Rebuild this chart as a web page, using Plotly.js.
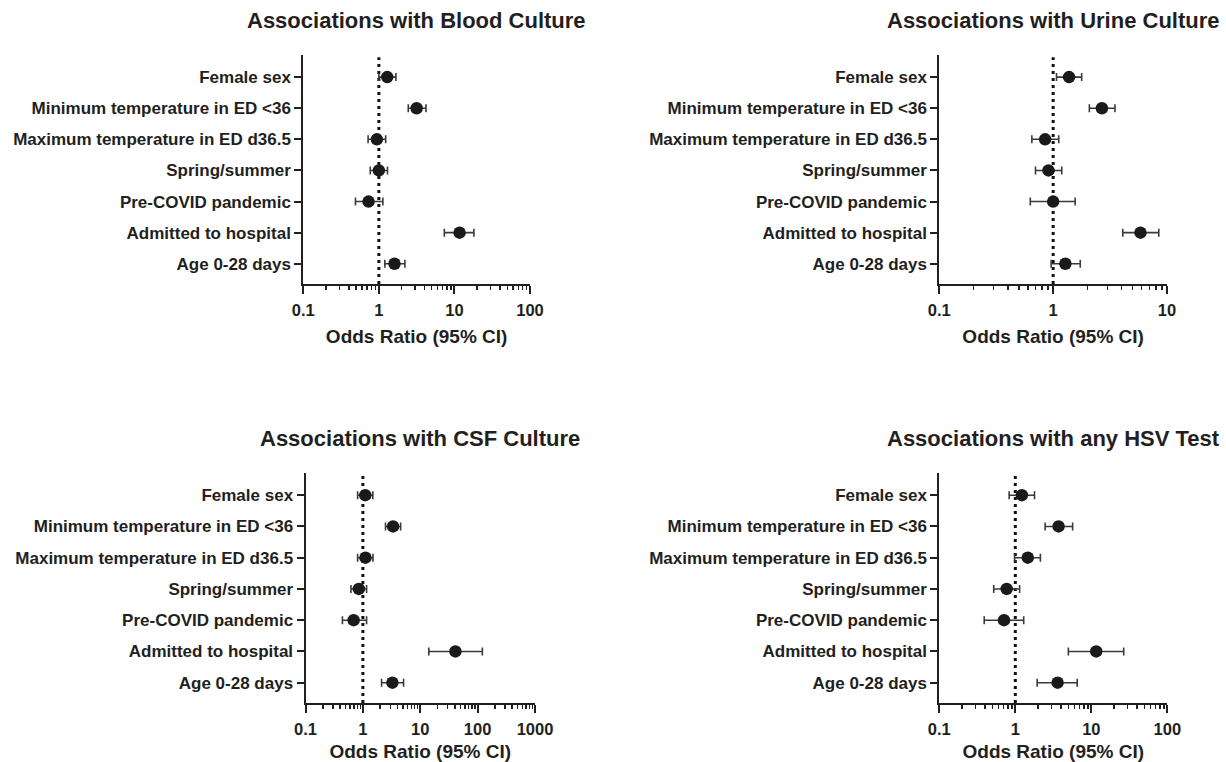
<!DOCTYPE html>
<html>
<head>
<meta charset="utf-8">
<script src="https://cdn.plot.ly/plotly-3.0.1.min.js"></script>
<style>html,body{margin:0;padding:0;background:#fff;}#chart{width:1226px;height:762px;}</style>
</head>
<body>
<div id="chart"></div>
<script>
// ---- data ----
const categories = ["Female sex", "Minimum temperature in ED <36", "Maximum temperature in ED d36.5",
  "Spring/summer", "Pre-COVID pandemic", "Admitted to hospital", "Age 0-28 days"];

const bloodOR = [1.29, 3.16, 0.94, 1.00, 0.73, 11.7, 1.61];
const bloodLo = [1.00, 2.45, 0.72, 0.77, 0.49, 7.35, 1.20];
const bloodHi = [1.68, 4.20, 1.23, 1.30, 1.13, 18.1, 2.21];

const urineOR = [1.38, 2.68, 0.85, 0.91, 1.00, 5.85, 1.28];
const urineLo = [1.07, 2.08, 0.65, 0.70, 0.63, 4.09, 0.96];
const urineHi = [1.78, 3.49, 1.12, 1.19, 1.56, 8.47, 1.73];

const csfOR = [1.10, 3.36, 1.11, 0.85, 0.69, 41.0, 3.27];
const csfLo = [0.81, 2.48, 0.81, 0.62, 0.44, 14.1, 2.12];
const csfHi = [1.49, 4.55, 1.50, 1.16, 1.16, 121, 5.12];

const hsvOR = [1.22, 3.71, 1.46, 0.77, 0.71, 11.6, 3.60];
const hsvLo = [0.83, 2.47, 0.98, 0.52, 0.39, 4.99, 1.94];
const hsvHi = [1.79, 5.68, 2.14, 1.14, 1.29, 26.7, 6.53];

const titles = ["Associations with Blood Culture", "Associations with Urine Culture",
  "Associations with CSF Culture", "Associations with any HSV Test"];
const xTitle = "Odds Ratio (95% CI)";
const xTickVals = [0.1, 1, 10, 100, 1000];
const xTickText = ["0.1", "1", "10", "100", "1000"];
const xMaxDecade = [2, 1, 3, 2];  // log10 of upper axis limit per panel

// ---- layout helpers ----
const W = 1226, H = 762;
const FONT = "Liberation Sans, Arial, sans-serif";
const INK = "#231f20";
const panels = [
  {or: bloodOR, lo: bloodLo, hi: bloodHi, px: [303.3, 530], py: [55, 284]},
  {or: urineOR, lo: urineLo, hi: urineHi, px: [939.3, 1167], py: [55, 284]},
  {or: csfOR,   lo: csfLo,   hi: csfHi,   px: [305.5, 535], py: [473, 703]},
  {or: hsvOR,   lo: hsvLo,   hi: hsvHi,   px: [939.3, 1167.3], py: [473, 703]}
];

function minorVals(maxDec) {
  const v = [];
  for (let d = -1; d < maxDec; d++) {
    for (let k = 2; k <= 9; k++) v.push(k * Math.pow(10, d));
  }
  return v;
}

const data = [];
const layout = {
  width: W, height: H,
  margin: {l: 0, r: 0, t: 0, b: 0},
  paper_bgcolor: "#fff", plot_bgcolor: "#fff",
  showlegend: false,
  font: {family: FONT, color: INK},
  annotations: [], shapes: []
};

panels.forEach((p, i) => {
  const n = i + 1;
  const xa = n === 1 ? "x" : "x" + n;
  const ya = n === 1 ? "y" : "y" + n;
  data.push({
    type: "scatter", mode: "markers",
    x: p.or, y: categories,
    xaxis: xa, yaxis: ya,
    marker: {color: "#1a1a1a", size: 12.5, symbol: "circle"},
    error_x: {
      type: "data", symmetric: false,
      array: p.hi.map((h, j) => h - p.or[j]),
      arrayminus: p.lo.map((l, j) => p.or[j] - l),
      color: "#3a3a3a", thickness: 1.6, width: 4
    },
    hoverinfo: "x+y"
  });
  const md = xMaxDecade[i];
  const nt = md + 2;
  layout["xaxis" + (n === 1 ? "" : n)] = {
    type: "log", range: [-1, md],
    domain: [p.px[0] / W, p.px[1] / W],
    anchor: ya,
    showgrid: false, zeroline: false,
    showline: true, linecolor: INK, linewidth: 2,
    ticks: "outside", ticklen: 8, tickwidth: 2, tickcolor: INK,
    tickmode: "array", tickvals: xTickVals.slice(0, nt), ticktext: xTickText.slice(0, nt),
    tickfont: {family: FONT, size: 16.5, color: INK, weight: "bold"},
    ticklabelstandoff: 2,
    minor: {tickmode: "array", tickvals: minorVals(md), ticks: "outside", ticklen: 4, tickwidth: 1.5, tickcolor: INK, showgrid: false},
    title: {text: "<b>" + xTitle + "</b>", font: {family: FONT, size: 19, color: INK}, standoff: 12},
    fixedrange: true
  };
  layout["yaxis" + (n === 1 ? "" : n)] = {
    type: "category", categoryorder: "array", categoryarray: categories,
    range: [6.65, -0.71],
    domain: [1 - p.py[1] / H, 1 - p.py[0] / H],
    anchor: xa,
    showgrid: false, zeroline: false,
    showline: true, linecolor: INK, linewidth: 2,
    ticks: "outside", ticklen: 7, tickwidth: 2, tickcolor: INK,
    tickfont: {family: FONT, size: 17, color: INK, weight: "bold"},
    fixedrange: true
  };
  layout.shapes.push({
    type: "line", xref: xa, yref: ya + " domain",
    x0: 1, x1: 1, y0: 0, y1: 0.99,
    line: {color: "#111", width: 3, dash: "3px,4px"}, layer: "below"
  });
  layout.annotations.push({
    xref: "paper", yref: "paper",
    x: ((p.px[0] + p.px[1]) / 2) / W,
    y: 1 - (p.py[0] - 35) / H,
    xanchor: "center", yanchor: "middle",
    text: "<b>" + titles[i] + "</b>", showarrow: false,
    font: {family: FONT, size: 22, color: INK}
  });
});

Plotly.newPlot("chart", data, layout, {staticPlot: true, displayModeBar: false});
</script>
</body>
</html>
